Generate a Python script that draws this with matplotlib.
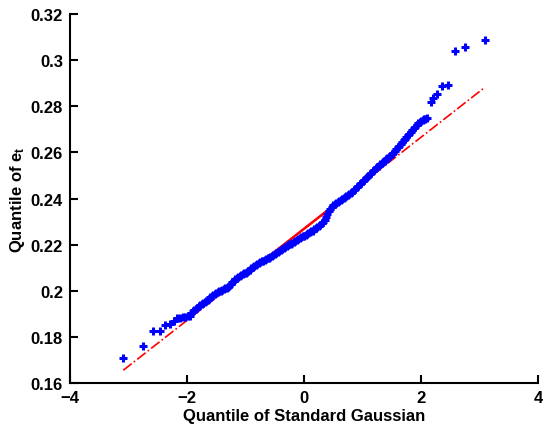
import matplotlib
matplotlib.use("Agg")
import matplotlib.pyplot as plt
import numpy as np

plt.rcParams['font.family'] = ['Liberation Sans', 'DejaVu Sans']
plt.rcParams['font.weight'] = 'bold'
plt.rcParams['mathtext.fontset'] = 'custom'
plt.rcParams['mathtext.bf'] = 'Liberation Sans:bold'
plt.rcParams['mathtext.rm'] = 'Liberation Sans:bold'
plt.rcParams['mathtext.it'] = 'Liberation Sans:bold'
plt.rcParams['mathtext.default'] = 'bf'

# lower tail (gaussian quantile, quantile of e_t)
tail_lo_x = [-3.09, -2.75, -2.58, -2.46, -2.37, -2.29, -2.23, -2.17, -2.12, -2.07, -2.03, -1.99, -1.95]
tail_lo_y = [0.1708, 0.1760, 0.1826, 0.1826, 0.1851, 0.1856, 0.1868, 0.1880, 0.1884, 0.1886, 0.1886, 0.1890, 0.1892]

# bulk of the sample
mid_x = [-1.925, -1.900, -1.875, -1.850, -1.825, -1.800, -1.775, -1.750, -1.725, -1.700,
         -1.675, -1.650, -1.625, -1.600, -1.575, -1.550, -1.525, -1.500, -1.475, -1.450,
         -1.425, -1.400, -1.375, -1.350, -1.325, -1.300, -1.275, -1.250, -1.225, -1.200,
         -1.175, -1.150, -1.125, -1.100, -1.075, -1.050, -1.025, -1.000, -0.975, -0.950,
         -0.925, -0.900, -0.875, -0.850, -0.825, -0.800, -0.775, -0.750, -0.725, -0.700,
         -0.675, -0.650, -0.625, -0.600, -0.575, -0.550, -0.525, -0.500, -0.475, -0.450,
         -0.425, -0.400, -0.375, -0.350, -0.325, -0.300, -0.275, -0.250, -0.225, -0.200,
         -0.175, -0.150, -0.125, -0.100, -0.075, -0.050, -0.025, 0.000, 0.025, 0.050,
         0.075, 0.100, 0.125, 0.150, 0.175, 0.200, 0.225, 0.250, 0.275, 0.300,
         0.325, 0.350, 0.375, 0.400, 0.425, 0.450, 0.475, 0.500, 0.525, 0.550,
         0.575, 0.600, 0.625, 0.650, 0.675, 0.700, 0.725, 0.750, 0.775, 0.800,
         0.825, 0.850, 0.875, 0.900, 0.925, 0.950, 0.975, 1.000, 1.025, 1.050,
         1.075, 1.100, 1.125, 1.150, 1.175, 1.200, 1.225, 1.250, 1.275, 1.300,
         1.325, 1.350, 1.375, 1.400, 1.425, 1.450, 1.475, 1.500, 1.525, 1.550,
         1.575, 1.600, 1.625, 1.650, 1.675, 1.700, 1.725, 1.750, 1.775, 1.800,
         1.825, 1.850, 1.875, 1.900, 1.925, 1.950, 1.975, 2.000, 2.025, 2.050,
         2.075, 2.100]
mid_y = [0.1902, 0.1912, 0.1917, 0.1922, 0.1927, 0.1932, 0.1937, 0.1942, 0.1947, 0.1952,
         0.1957, 0.1962, 0.1966, 0.1971, 0.1976, 0.1980, 0.1985, 0.1989, 0.1993, 0.1997,
         0.2001, 0.2004, 0.2007, 0.2010, 0.2013, 0.2016, 0.2022, 0.2029, 0.2036, 0.2042,
         0.2049, 0.2055, 0.2060, 0.2064, 0.2068, 0.2072, 0.2076, 0.2079, 0.2083, 0.2087,
         0.2092, 0.2097, 0.2101, 0.2106, 0.2111, 0.2116, 0.2121, 0.2125, 0.2128, 0.2131,
         0.2135, 0.2138, 0.2141, 0.2144, 0.2148, 0.2151, 0.2155, 0.2159, 0.2164, 0.2168,
         0.2173, 0.2177, 0.2182, 0.2186, 0.2190, 0.2194, 0.2197, 0.2201, 0.2205, 0.2209,
         0.2213, 0.2217, 0.2221, 0.2224, 0.2228, 0.2232, 0.2236, 0.2239, 0.2242, 0.2246,
         0.2250, 0.2254, 0.2258, 0.2261, 0.2266, 0.2271, 0.2276, 0.2281, 0.2287, 0.2293,
         0.2300, 0.2308, 0.2320, 0.2333, 0.2345, 0.2356, 0.2364, 0.2370, 0.2375, 0.2380,
         0.2384, 0.2389, 0.2394, 0.2398, 0.2403, 0.2407, 0.2412, 0.2416, 0.2420, 0.2424,
         0.2429, 0.2435, 0.2441, 0.2448, 0.2454, 0.2461, 0.2467, 0.2474, 0.2480, 0.2487,
         0.2493, 0.2499, 0.2505, 0.2512, 0.2518, 0.2525, 0.2531, 0.2537, 0.2543, 0.2549,
         0.2554, 0.2560, 0.2565, 0.2570, 0.2575, 0.2581, 0.2586, 0.2592, 0.2599, 0.2607,
         0.2614, 0.2622, 0.2629, 0.2637, 0.2644, 0.2652, 0.2659, 0.2667, 0.2674, 0.2682,
         0.2689, 0.2697, 0.2704, 0.2712, 0.2719, 0.2727, 0.2731, 0.2735, 0.2739, 0.2743,
         0.2746, 0.2748]

# upper tail
tail_hi_x = [2.17, 2.21, 2.27, 2.36, 2.46, 2.58, 2.75, 3.09]
tail_hi_y = [0.2819, 0.2836, 0.2853, 0.2888, 0.2892, 0.3040, 0.3057, 0.3087]

qx = np.array(tail_lo_x + mid_x + tail_hi_x)
qy = np.array(tail_lo_y + mid_y + tail_hi_y)

# reference line through first and third quartiles (like matlab qqplot)
q1 = -0.6745
q3 = 0.6745
y1 = np.interp(q1, qx, qy)
y3 = np.interp(q3, qx, qy)
slope = (y3 - y1) / (q3 - q1)
xe = np.array([qx.min(), qx.max()])
ye = y1 + slope * (xe - q1)

fig = plt.figure(figsize=(5.43, 4.31), dpi=100)
ax = fig.add_axes([0.129, 0.109, 0.862, 0.856])

ax.plot(xe, ye, '-.', color='red', lw=1.2)
ax.plot([q1, q3], [y1, y3], '-', color='red', lw=1.8)
ax.plot(qx, qy, '+', color='#0000ff', ms=6, mew=2.2)

ax.set_xlim(-4, 4)
ax.set_ylim(0.16, 0.32)
ax.set_xticks([-4, -2, 0, 2, 4])
ax.set_yticks([0.16, 0.18, 0.2, 0.22, 0.24, 0.26, 0.28, 0.3, 0.32])
ax.set_yticklabels(['0.16', '0.18', '0.2', '0.22', '0.24', '0.26', '0.28', '0.3', '0.32'])

ax.spines['top'].set_visible(False)
ax.spines['right'].set_visible(False)
ax.spines['left'].set_linewidth(1.5)
ax.spines['bottom'].set_linewidth(1.5)
ax.tick_params(direction='in', length=6, width=1.5, labelsize=12, pad=5)

ax.set_xlabel('Quantile of Standard Gaussian', fontsize=12, fontweight='bold', labelpad=2)
ax.set_ylabel('Quantile of e$_t$', fontsize=12, fontweight='bold', labelpad=3)

fig.savefig('out.png', dpi=100)
